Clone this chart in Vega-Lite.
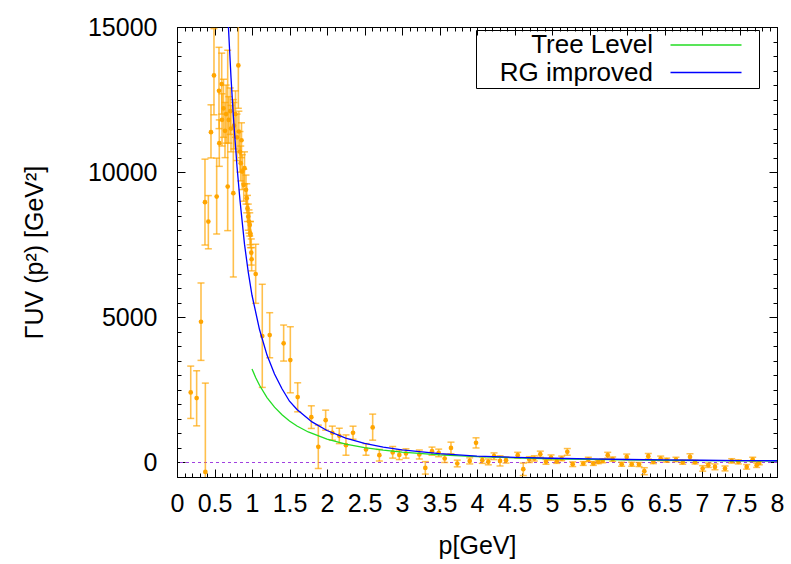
{
  "$schema": "https://vega.github.io/schema/vega-lite/v6.json",
  "width": 600,
  "height": 450,
  "autosize": {"type": "none"},
  "padding": {"left": 177, "top": 27, "right": 14, "bottom": 87},
  "background": "white",
  "config": {
    "view": {"stroke": "black", "strokeWidth": 1},
    "font": "Liberation Sans",
    "axis": {
      "grid": false, "domain": false, "tickColor": "black", "tickWidth": 1,
      "labelColor": "black", "titleColor": "black",
      "labelFont": "Liberation Sans", "titleFont": "Liberation Sans",
      "labelFontSize": 25, "titleFontSize": 25, "titleFontWeight": "normal"
    }
  },
  "datasets": {
    "obs": [
      {"p":0.183,"v":2414,"lo":1517,"hi":3320},
      {"p":0.262,"v":2217,"lo":1262,"hi":3159},
      {"p":0.320,"v":4848,"lo":3517,"hi":6183},
      {"p":0.373,"v":8966,"lo":7490,"hi":10448},
      {"p":0.378,"v":-324,"lo":-3400,"hi":2734},
      {"p":0.418,"v":8297,"lo":7360,"hi":9193},
      {"p":0.453,"v":11379,"lo":10490,"hi":12320},
      {"p":0.493,"v":13331,"lo":11976,"hi":14945},
      {"p":0.529,"v":9159,"lo":7870,"hi":10483},
      {"p":0.560,"v":12803,"lo":11500,"hi":14300},
      {"p":0.564,"v":11000,"lo":10200,"hi":11800},
      {"p":0.596,"v":13034,"lo":12000,"hi":14100},
      {"p":0.600,"v":11803,"lo":10900,"hi":12700},
      {"p":0.620,"v":12200,"lo":11200,"hi":13200},
      {"p":0.640,"v":11424,"lo":10500,"hi":12400},
      {"p":0.655,"v":12000,"lo":11000,"hi":13000},
      {"p":0.676,"v":9503,"lo":7986,"hi":14200},
      {"p":0.690,"v":11800,"lo":11000,"hi":12600},
      {"p":0.710,"v":12100,"lo":11300,"hi":12900},
      {"p":0.720,"v":11500,"lo":10700,"hi":12300},
      {"p":0.751,"v":9276,"lo":6390,"hi":12500},
      {"p":0.760,"v":11600,"lo":10800,"hi":12400},
      {"p":0.780,"v":12000,"lo":11200,"hi":12800},
      {"p":0.800,"v":11200,"lo":10400,"hi":12000},
      {"p":0.818,"v":13676,"lo":12200,"hi":15500},
      {"p":0.825,"v":11400,"lo":10700,"hi":12100},
      {"p":0.840,"v":10700,"lo":10000,"hi":11400},
      {"p":0.850,"v":10310,"lo":9700,"hi":10900},
      {"p":0.860,"v":11100,"lo":10500,"hi":11700},
      {"p":0.870,"v":10021,"lo":9400,"hi":10600},
      {"p":0.890,"v":9562,"lo":9000,"hi":10100},
      {"p":0.900,"v":10138,"lo":9600,"hi":10700},
      {"p":0.920,"v":9390,"lo":8900,"hi":9900},
      {"p":0.930,"v":9103,"lo":8600,"hi":9600},
      {"p":0.940,"v":8758,"lo":8300,"hi":9200},
      {"p":0.950,"v":8469,"lo":8000,"hi":8900},
      {"p":0.960,"v":8297,"lo":7900,"hi":8700},
      {"p":0.970,"v":8183,"lo":7800,"hi":8600},
      {"p":0.975,"v":7897,"lo":7500,"hi":8300},
      {"p":0.980,"v":7838,"lo":7400,"hi":8300},
      {"p":0.990,"v":7228,"lo":6800,"hi":7700},
      {"p":0.995,"v":7000,"lo":6600,"hi":7400},
      {"p":1.049,"v":6493,"lo":5483,"hi":7517},
      {"p":1.137,"v":4355,"lo":2586,"hi":6138},
      {"p":1.236,"v":4390,"lo":3607,"hi":5159},
      {"p":1.422,"v":4103,"lo":3493,"hi":4734},
      {"p":1.511,"v":3528,"lo":2400,"hi":4676},
      {"p":1.609,"v":2252,"lo":1745,"hi":2745},
      {"p":1.791,"v":1562,"lo":1172,"hi":1952},
      {"p":1.884,"v":538,"lo":-207,"hi":1286},
      {"p":1.982,"v":1459,"lo":1114,"hi":1803},
      {"p":2.071,"v":1021,"lo":769,"hi":1252},
      {"p":2.164,"v":917,"lo":650,"hi":1180},
      {"p":2.253,"v":597,"lo":250,"hi":950},
      {"p":2.347,"v":1021,"lo":800,"hi":1250},
      {"p":2.520,"v":448,"lo":250,"hi":650},
      {"p":2.609,"v":1207,"lo":769,"hi":1666},
      {"p":2.698,"v":252,"lo":50,"hi":450},
      {"p":2.876,"v":345,"lo":150,"hi":550},
      {"p":2.964,"v":262,"lo":100,"hi":430},
      {"p":3.053,"v":310,"lo":150,"hi":470},
      {"p":3.231,"v":276,"lo":120,"hi":430},
      {"p":3.311,"v":-186,"lo":-400,"hi":30},
      {"p":3.400,"v":390,"lo":250,"hi":530},
      {"p":3.489,"v":331,"lo":200,"hi":460},
      {"p":3.569,"v":138,"lo":0,"hi":280},
      {"p":3.653,"v":503,"lo":300,"hi":700},
      {"p":3.737,"v":-34,"lo":-150,"hi":80},
      {"p":3.903,"v":55,"lo":-50,"hi":160},
      {"p":3.987,"v":676,"lo":500,"hi":850},
      {"p":4.071,"v":79,"lo":-30,"hi":190},
      {"p":4.151,"v":21,"lo":-80,"hi":120},
      {"p":4.227,"v":217,"lo":100,"hi":330},
      {"p":4.307,"v":55,"lo":-120,"hi":230},
      {"p":4.387,"v":79,"lo":-20,"hi":180},
      {"p":4.543,"v":252,"lo":150,"hi":350},
      {"p":4.617,"v":-231,"lo":-450,"hi":-20},
      {"p":4.697,"v":103,"lo":0,"hi":200},
      {"p":4.764,"v":138,"lo":50,"hi":230},
      {"p":4.844,"v":286,"lo":180,"hi":390},
      {"p":4.920,"v":21,"lo":-60,"hi":100},
      {"p":4.987,"v":172,"lo":80,"hi":260},
      {"p":5.063,"v":45,"lo":-30,"hi":120},
      {"p":5.129,"v":138,"lo":60,"hi":220},
      {"p":5.204,"v":366,"lo":250,"hi":480},
      {"p":5.276,"v":-59,"lo":-140,"hi":20},
      {"p":5.417,"v":-34,"lo":-100,"hi":30},
      {"p":5.484,"v":103,"lo":30,"hi":180},
      {"p":5.551,"v":-34,"lo":-100,"hi":30},
      {"p":5.617,"v":21,"lo":-40,"hi":80},
      {"p":5.676,"v":55,"lo":-10,"hi":120},
      {"p":5.743,"v":252,"lo":150,"hi":350},
      {"p":5.809,"v":114,"lo":40,"hi":190},
      {"p":5.929,"v":-59,"lo":-130,"hi":10},
      {"p":5.996,"v":193,"lo":100,"hi":290},
      {"p":6.063,"v":-59,"lo":-130,"hi":10},
      {"p":6.160,"v":-69,"lo":-140,"hi":0},
      {"p":6.231,"v":-300,"lo":-420,"hi":-180},
      {"p":6.284,"v":217,"lo":120,"hi":310},
      {"p":6.351,"v":21,"lo":-40,"hi":80},
      {"p":6.449,"v":138,"lo":60,"hi":220},
      {"p":6.529,"v":79,"lo":10,"hi":150},
      {"p":6.653,"v":103,"lo":30,"hi":180},
      {"p":6.743,"v":10,"lo":-60,"hi":80},
      {"p":6.840,"v":193,"lo":80,"hi":300},
      {"p":6.907,"v":10,"lo":-50,"hi":70},
      {"p":7.009,"v":-207,"lo":-300,"hi":-110},
      {"p":7.084,"v":-93,"lo":-170,"hi":-20},
      {"p":7.173,"v":-152,"lo":-250,"hi":-50},
      {"p":7.307,"v":-207,"lo":-290,"hi":-120},
      {"p":7.396,"v":55,"lo":-20,"hi":130},
      {"p":7.484,"v":21,"lo":-50,"hi":90},
      {"p":7.596,"v":-152,"lo":-230,"hi":-70},
      {"p":7.676,"v":103,"lo":30,"hi":180},
      {"p":7.729,"v":-93,"lo":-170,"hi":-20},
      {"p":7.764,"v":-14,"lo":-80,"hi":50}
    ],
    "curves": [
      {"series":"Tree Level","p":1.0,"v":3220},
      {"series":"Tree Level","p":1.05,"v":2921},
      {"series":"Tree Level","p":1.1,"v":2661},
      {"series":"Tree Level","p":1.2,"v":2236},
      {"series":"Tree Level","p":1.3,"v":1905},
      {"series":"Tree Level","p":1.4,"v":1643},
      {"series":"Tree Level","p":1.5,"v":1431},
      {"series":"Tree Level","p":1.6,"v":1258},
      {"series":"Tree Level","p":1.75,"v":1051},
      {"series":"Tree Level","p":2.0,"v":805},
      {"series":"Tree Level","p":2.25,"v":636},
      {"series":"Tree Level","p":2.5,"v":515},
      {"series":"Tree Level","p":2.75,"v":426},
      {"series":"Tree Level","p":3.0,"v":358},
      {"series":"Tree Level","p":3.5,"v":263},
      {"series":"Tree Level","p":4.0,"v":201},
      {"series":"Tree Level","p":4.5,"v":159},
      {"series":"Tree Level","p":5.0,"v":129},
      {"series":"Tree Level","p":5.5,"v":106},
      {"series":"Tree Level","p":6.0,"v":89},
      {"series":"Tree Level","p":6.5,"v":76},
      {"series":"Tree Level","p":7.0,"v":66},
      {"series":"Tree Level","p":7.5,"v":57},
      {"series":"Tree Level","p":8.0,"v":50},
      {"series":"RG improved","p":0.665,"v":16500},
      {"series":"RG improved","p":0.684,"v":15080},
      {"series":"RG improved","p":0.72,"v":13266},
      {"series":"RG improved","p":0.75,"v":11980},
      {"series":"RG improved","p":0.8,"v":10195},
      {"series":"RG improved","p":0.84,"v":9022},
      {"series":"RG improved","p":0.9,"v":7520},
      {"series":"RG improved","p":0.95,"v":6560},
      {"series":"RG improved","p":1.0,"v":5760},
      {"series":"RG improved","p":1.1,"v":4580},
      {"series":"RG improved","p":1.2,"v":3700},
      {"series":"RG improved","p":1.3,"v":3050},
      {"series":"RG improved","p":1.4,"v":2540},
      {"series":"RG improved","p":1.5,"v":2110},
      {"series":"RG improved","p":1.6,"v":1824},
      {"series":"RG improved","p":1.8,"v":1397},
      {"series":"RG improved","p":2.0,"v":1101},
      {"series":"RG improved","p":2.25,"v":839},
      {"series":"RG improved","p":2.5,"v":658},
      {"series":"RG improved","p":2.75,"v":528},
      {"series":"RG improved","p":3.0,"v":432},
      {"series":"RG improved","p":3.5,"v":302},
      {"series":"RG improved","p":4.0,"v":222},
      {"series":"RG improved","p":4.5,"v":177},
      {"series":"RG improved","p":5.0,"v":145},
      {"series":"RG improved","p":5.5,"v":121},
      {"series":"RG improved","p":6.0,"v":103},
      {"series":"RG improved","p":6.5,"v":88},
      {"series":"RG improved","p":7.0,"v":77},
      {"series":"RG improved","p":7.5,"v":67},
      {"series":"RG improved","p":8.0,"v":60}
    ],
    "zero": [{"y": 0}]
  },
  "resolve": {"axis": {"x": "independent", "y": "independent"}},
  "layer": [
    {
      "data": {"name": "zero"},
      "mark": {"type": "rule", "color": "#a040e0", "strokeDash": [3, 3], "strokeWidth": 1.2},
      "encoding": {
        "y": {"field": "y", "type": "quantitative", "axis": null,
              "scale": {"domain": [-500, 15000], "nice": false, "zero": false}}
      }
    },
    {
      "data": {"name": "obs"},
      "mark": {"type": "rule", "clip": true, "color": "#ffa500", "opacity": 0.7, "strokeWidth": 1.6},
      "encoding": {
        "x": {"field": "p", "type": "quantitative",
              "scale": {"domain": [0, 8], "nice": false, "zero": false},
              "axis": {"orient": "bottom", "values": [0,0.5,1,1.5,2,2.5,3,3.5,4,4.5,5,5.5,6,6.5,7,7.5,8],
                       "format": "~g", "offset": -8, "tickSize": 8, "labelPadding": 14,
                       "labelFlush": false, "labelOverlap": false, "labelBound": false,
                       "title": "p[GeV]", "titleX": 300, "titleY": 76, "titleBaseline": "middle", "titleAlign": "center"}},
        "y": {"field": "lo", "type": "quantitative",
              "scale": {"domain": [-500, 15000], "nice": false, "zero": false},
              "axis": {"orient": "left", "values": [0, 5000, 10000, 15000], "format": "d",
                       "offset": -8, "tickSize": 8, "labelPadding": 20,
                       "labelFlush": false, "labelOverlap": false, "labelBound": false,
                       "title": "ΓUV (p²) [GeV²]", "titleX": -151, "titleY": 225, "titleAngle": -90,
                       "titleBaseline": "middle", "titleAlign": "center"}},
        "y2": {"field": "hi"}
      }
    },
    {
      "data": {"name": "obs"},
      "mark": {"type": "tick", "orient": "horizontal", "clip": true, "color": "#ffa500", "opacity": 0.7, "size": 7, "thickness": 1.5},
      "encoding": {
        "x": {"field": "p", "type": "quantitative",
              "scale": {"domain": [0, 8], "nice": false, "zero": false},
              "axis": {"orient": "bottom", "values": [0,0.1,0.2,0.3,0.4,0.5,0.6,0.7,0.8,0.9,1,1.1,1.2,1.3,1.4,1.5,1.6,1.7,1.8,1.9,2,2.1,2.2,2.3,2.4,2.5,2.6,2.7,2.8,2.9,3,3.1,3.2,3.3,3.4,3.5,3.6,3.7,3.8,3.9,4,4.1,4.2,4.3,4.4,4.5,4.6,4.7,4.8,4.9,5,5.1,5.2,5.3,5.4,5.5,5.6,5.7,5.8,5.9,6,6.1,6.2,6.3,6.4,6.5,6.6,6.7,6.8,6.9,7,7.1,7.2,7.3,7.4,7.5,7.6,7.7,7.8,7.9,8],
                       "offset": -4, "tickSize": 4, "labels": false, "title": null}},
        "y": {"field": "lo", "type": "quantitative",
              "scale": {"domain": [-500, 15000], "nice": false, "zero": false},
              "axis": {"orient": "left", "values": [-500,0,500,1000,1500,2000,2500,3000,3500,4000,4500,5000,5500,6000,6500,7000,7500,8000,8500,9000,9500,10000,10500,11000,11500,12000,12500,13000,13500,14000,14500,15000],
                       "offset": -4, "tickSize": 4, "labels": false, "title": null}}
      }
    },
    {
      "data": {"name": "obs"},
      "mark": {"type": "tick", "orient": "horizontal", "clip": true, "color": "#ffa500", "opacity": 0.7, "size": 7, "thickness": 1.5},
      "encoding": {
        "x": {"field": "p", "type": "quantitative",
              "scale": {"domain": [0, 8], "nice": false, "zero": false},
              "axis": {"orient": "top", "values": [0,0.5,1,1.5,2,2.5,3,3.5,4,4.5,5,5.5,6,6.5,7,7.5,8],
                       "offset": -8, "tickSize": 8, "labels": false, "title": null}},
        "y": {"field": "hi", "type": "quantitative",
              "scale": {"domain": [-500, 15000], "nice": false, "zero": false},
              "axis": {"orient": "right", "values": [0, 5000, 10000, 15000],
                       "offset": -8, "tickSize": 8, "labels": false, "title": null}}
      }
    },
    {
      "data": {"name": "obs"},
      "mark": {"type": "point", "filled": true, "clip": true, "size": 22, "color": "#ffa500", "opacity": 1},
      "encoding": {
        "x": {"field": "p", "type": "quantitative",
              "scale": {"domain": [0, 8], "nice": false, "zero": false},
              "axis": {"orient": "top", "values": [0,0.1,0.2,0.3,0.4,0.5,0.6,0.7,0.8,0.9,1,1.1,1.2,1.3,1.4,1.5,1.6,1.7,1.8,1.9,2,2.1,2.2,2.3,2.4,2.5,2.6,2.7,2.8,2.9,3,3.1,3.2,3.3,3.4,3.5,3.6,3.7,3.8,3.9,4,4.1,4.2,4.3,4.4,4.5,4.6,4.7,4.8,4.9,5,5.1,5.2,5.3,5.4,5.5,5.6,5.7,5.8,5.9,6,6.1,6.2,6.3,6.4,6.5,6.6,6.7,6.8,6.9,7,7.1,7.2,7.3,7.4,7.5,7.6,7.7,7.8,7.9,8],
                       "offset": -4, "tickSize": 4, "labels": false, "title": null}},
        "y": {"field": "v", "type": "quantitative",
              "scale": {"domain": [-500, 15000], "nice": false, "zero": false},
              "axis": {"orient": "right", "values": [-500,0,500,1000,1500,2000,2500,3000,3500,4000,4500,5000,5500,6000,6500,7000,7500,8000,8500,9000,9500,10000,10500,11000,11500,12000,12500,13000,13500,14000,14500,15000],
                       "offset": -4, "tickSize": 4, "labels": false, "title": null}}
      }
    },
    {
      "data": {"name": "curves"},
      "mark": {"type": "line", "clip": true, "strokeWidth": 1.3},
      "encoding": {
        "x": {"field": "p", "type": "quantitative", "axis": null,
              "scale": {"domain": [0, 8], "nice": false, "zero": false}},
        "y": {"field": "v", "type": "quantitative", "axis": null,
              "scale": {"domain": [-500, 15000], "nice": false, "zero": false}},
        "color": {"field": "series", "type": "nominal",
                  "scale": {"domain": ["Tree Level", "RG improved"], "range": ["#22dd22", "#0000ff"]},
                  "legend": {"title": null, "orient": "none", "legendX": 299, "legendY": 3,
                             "symbolType": "M-7.1,0H7.1M9.5,0", "symbolSize": 100, "symbolStrokeWidth": 1.3,
                             "symbolOffset": 215,
                             "labelFontSize": 26, "labelFont": "Liberation Sans", "labelColor": "black",
                             "labelAlign": "right", "labelOffset": -66, "labelLimit": 400,
                             "strokeColor": "black", "padding": 2, "rowPadding": 1.5}}
      }
    }
  ]
}
